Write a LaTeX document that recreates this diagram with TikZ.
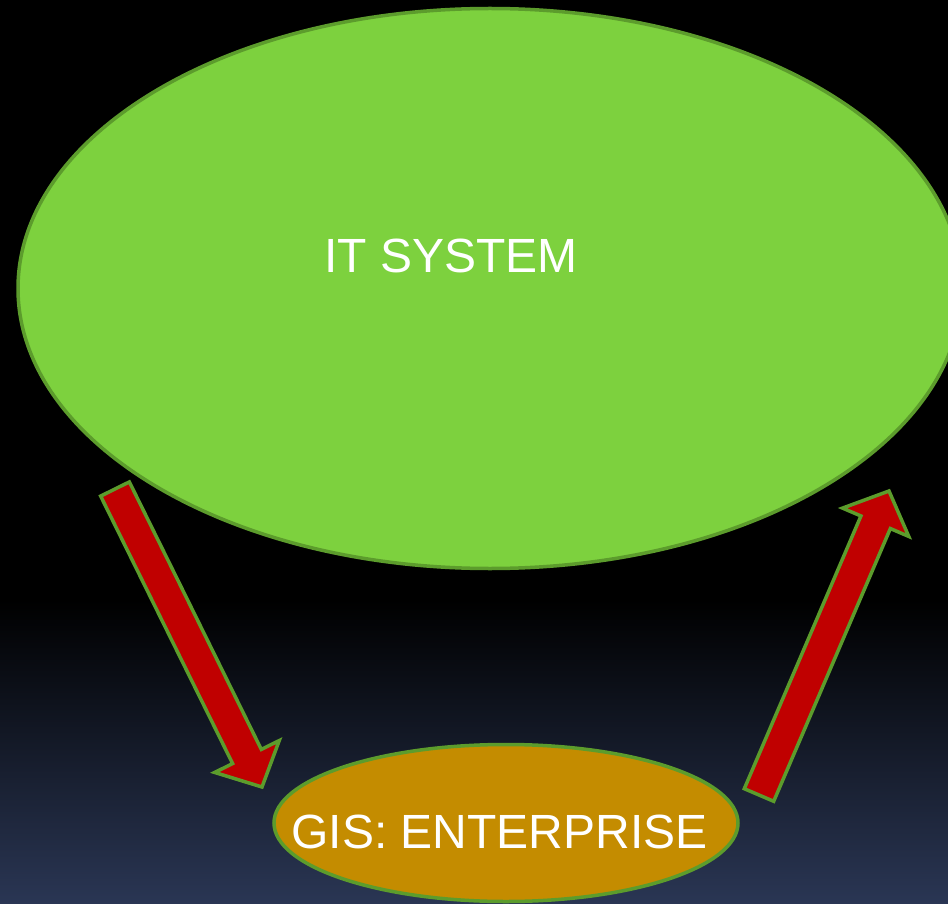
\documentclass[tikz,border=0pt]{standalone}
\usepackage{fontspec}
\setmainfont{Liberation Sans}
\usetikzlibrary{shapes.geometric,calc}
\definecolor{itgreen}{HTML}{7DD13E}
\definecolor{edgegreen}{HTML}{5C9C2C}
\definecolor{gisgold}{HTML}{C48C00}
\definecolor{arrowred}{HTML}{C00000}
\definecolor{bgblue}{HTML}{2A3654}
\tikzset{
  blob/.style={ellipse,draw=edgegreen,line width=3.5pt,inner sep=0pt},
  caption/.style={text=white,font=\fontsize{48}{58}\selectfont,inner sep=0pt},
  arrowbox/.style={fill=arrowred,draw=edgegreen,line width=3.5pt,line join=miter},
}
% block arrow from a tail coordinate to a tip coordinate
\newcommand\blockarrow[2]{%
  \coordinate (#1base) at ($(#2)!34pt!(#1)$);
  \draw[arrowbox]
    ($(#1)!16pt!90:(#2)$) -- ($(#1base)!16pt!90:(#2)$)
    -- ($(#1base)!36pt!90:(#2)$) -- (#2)
    -- ($(#1base)!36pt!-90:(#2)$) -- ($(#1base)!16pt!-90:(#2)$)
    -- ($(#1)!16pt!-90:(#2)$) -- cycle;
}

\begin{document}
\begin{tikzpicture}[x=1pt,y=-1pt]
  \useasboundingbox (0,0) rectangle (948,904);
  % background
  \fill[black] (0,0) rectangle (948,904);
  \shade[top color=black,bottom color=bgblue] (0,600) rectangle (948,904);

  \node[blob,fill=itgreen,minimum width=944,minimum height=560] (itsys) at (490,288.5) {};
  \node[caption] (itlabel) at (451,256) {IT SYSTEM};

  \node[blob,fill=gisgold,minimum width=464,minimum height=157] (gis) at (506,823) {};
  \node[caption] (gislabel) at (499.5,832) {GIS: ENTERPRISE};

  % arrows
  \coordinate (downtail) at (115,489);
  \coordinate (downtip) at (262,787);
  \coordinate (uptail) at (759,795);
  \coordinate (uptip) at (889,491);
  \blockarrow{downtail}{downtip}
  \blockarrow{uptail}{uptip}
\end{tikzpicture}
\end{document}
